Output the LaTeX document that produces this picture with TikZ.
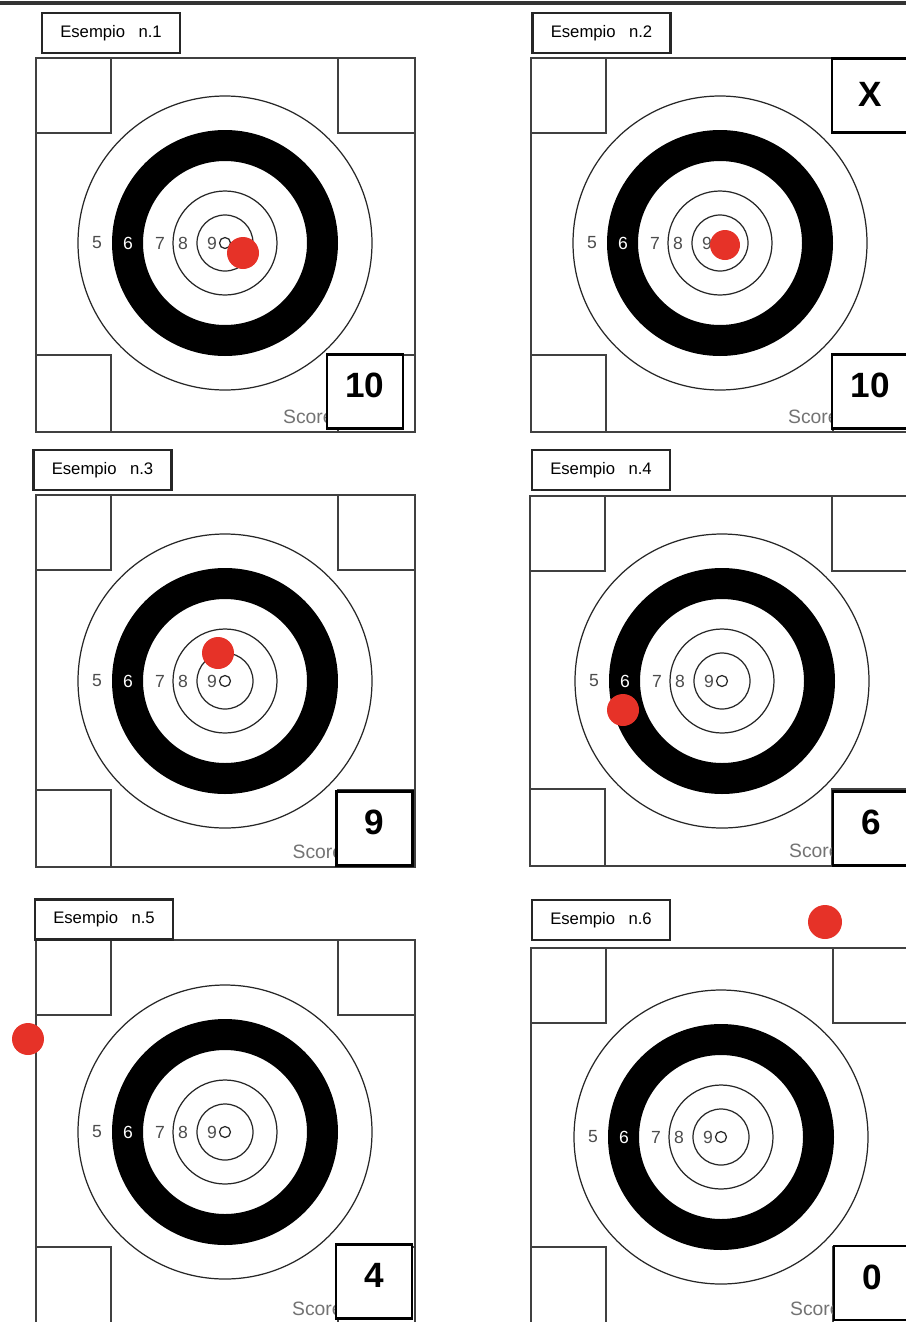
\documentclass[tikz,border=0pt]{standalone}
\usepackage{fontspec}
\setmainfont{Liberation Sans}
\definecolor{rossocolpo}{RGB}{230,50,40}
\tikzset{
  cornice/.style={draw=black!75, line width=0.8pt},
  anello/.style={draw=black!85, line width=0.7pt},
  etichetta/.style={draw=black!85, line width=1.3pt, fill=white, minimum width=2.76cm,
    minimum height=0.8cm, inner sep=0pt, font=\fontsize{9.5}{10}\selectfont},
  punteggio/.style={draw=black, line width=1.4pt, fill=white, minimum width=1.52cm,
    minimum height=1.48cm, inner sep=0pt},
  cifra/.style={font=\fontsize{20}{22}\selectfont\bfseries, inner sep=0pt},
  numero/.style={text=black!70, font=\fontsize{10}{11}\selectfont, inner sep=0pt},
  scritta/.style={text=black!55, font=\fontsize{11}{12}\selectfont, inner sep=0pt}
}
\begin{document}
\begin{tikzpicture}[x=0.02cm, y=-0.02cm]
    \useasboundingbox (0,0) rectangle (906,1322);
    \clip (0,0) rectangle (906,1322);

    % ---- Riga in alto ----
    \draw[line width=2.2pt, black!80] (0,3) -- (906,3);

    % ---- Bersagli: n / cornice / centro / etichetta / punteggio ----
    \foreach \k/\fx/\fy/\bot/\cx/\cy/\lx/\ly/\sx/\sy/\punti in {
        1/36/58/432/225/243/111/33/365/391.5/10,
        2/531/58/432/720/243/601.5/33/870/391.5/10,
        3/36/495/867/225/681/102.5/470/374.5/828.5/9,
        4/530/496/866/722/681/601/470/871/828.5/6,
        5/36/940/1324/225/1132/104/919.5/374/1281.5/4,
        6/531/948/1324/721/1137/601/920/872/1283/0}{
        % cornice e quadrati d'angolo
        \draw[cornice] (\fx,\fy) rectangle (\fx+379,\bot);
        \draw[cornice] (\fx,\fy+75) -| (\fx+75,\fy);
        \draw[cornice] (\fx+302,\fy) |- (\fx+379,\fy+75);
        \draw[cornice] (\fx,\bot-77) -| (\fx+75,\bot);
        \draw[cornice] (\fx+302,\bot) |- (\fx+379,\bot-77);

        % anello nero e cerchi
        \fill[black, even odd rule] (\cx,\cy) circle (113) (\cx,\cy) circle (82);
        \foreach \r in {147,52,28,5.5}
            \draw[anello] (\cx,\cy) circle (\r);

        % numeri delle zone
        \node[numero] (c5-\k) at (\cx-128,\cy) {5};
        \node[numero, text=white] (c6-\k) at (\cx-97,\cy) {6};
        \node[numero] (c7-\k) at (\cx-65,\cy) {7};
        \node[numero] (c8-\k) at (\cx-42,\cy) {8};
        \node[numero] (c9-\k) at (\cx-13,\cy) {9};

        % casella del punteggio
        \node[scritta, anchor=base east] (scr\k) at (\sx-31,\bot-9) {Score};
        \node[punteggio] (box\k) at (\sx,\sy) {};
        \node[cifra] (pt\k) at (\sx,\sy-6) {\punti};

        % etichetta
        \node[etichetta] (lab\k) at (\lx,\ly) {Esempio\hspace{0.8em}n.\k};
    }

    % Casella X (esempio 2)
    \node[punteggio] (boxX) at (870,95.5) {};
    \node[cifra] (ptX) at (870,94) {X};

    % ---- Colpi ----
    \foreach \k/\x/\y/\r in {1/243/253/16, 2/725/245/15, 3/218/653/16,
                             4/623/710/16, 5/28/1039/16, 6/825/922/17}
        \fill[rossocolpo] (\x,\y) circle (\r);
\end{tikzpicture}
\end{document}
